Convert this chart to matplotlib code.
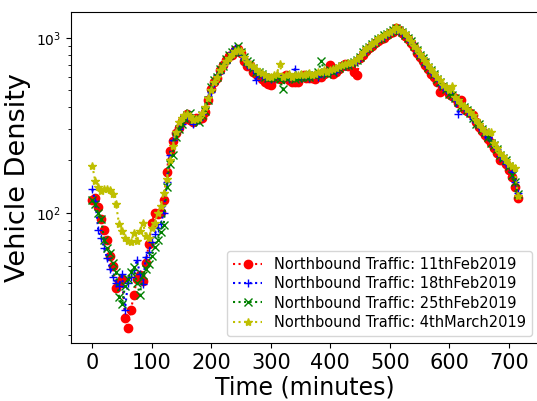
import matplotlib
matplotlib.use('Agg')
import matplotlib.pyplot as plt

# sample times, one reading every 5 minutes
minutes = list(range(0, 720, 5))

feb11 = [118, 122, 108, 92, 80, 70, 57, 50, 37, 40, 42, 25, 22, 28, 34, 42, 44, 41, 52, 66,
         88, 100, 98, 101, 118, 170, 225, 258, 285, 305, 335, 350, 365, 340, 330, 350, 345, 350, 375, 440,
         510, 555, 590, 650, 700, 750, 790, 800, 850, 860, 820, 740, 690, 700, 640, 620, 610, 580, 560, 545,
         540, 590, 600, 580, 595, 610, 570, 560, 555, 560, 600, 610, 590, 585, 590, 580, 610, 600, 620, 640,
         700, 620, 640, 660, 690, 710, 690, 700, 640, 610, 770, 800, 840, 870, 900, 930, 960, 980, 1000, 1030,
         1060, 1080, 1130, 1110, 1070, 1020, 980, 930, 880, 820, 780, 740, 700, 660, 620, 600, 560, 490, 520, 500,
         480, 465, 450, 425, 440, 390, 380, 370, 360, 330, 310, 295, 280, 265, 250, 235, 220, 200, 200, 190,
         175, 160, 140, 122]

feb18 = [136, 117, 80, 72, 63, 55, 48, 43, 40, 38, 45, 28, 40, 43, 47, 54, 45, 39, 56, 60,
         68, 76, 82, 86, 100, 150, 215, 260, 290, 300, 320, 355, 350, 360, 320, 330, 340, 365, 400, 460,
         490, 550, 610, 630, 700, 720, 770, 830, 870, 850, 800, 760, 700, 690, 660, 570, 620, 610, 590, 600,
         580, 590, 610, 600, 590, 600, 580, 600, 660, 600, 590, 600, 610, 590, 610, 620, 600, 630, 620, 640,
         630, 650, 640, 680, 700, 690, 710, 720, 730, 740, 790, 830, 850, 880, 920, 950, 980, 1000, 1010, 1050,
         1080, 1090, 1110, 1090, 1070, 1050, 990, 940, 900, 830, 790, 770, 710, 690, 640, 620, 590, 540, 520, 500,
         490, 470, 440, 366, 420, 400, 380, 360, 345, 330, 310, 300, 280, 270, 260, 240, 230, 210, 200, 190,
         185, 170, 150, 130]

feb25 = [118, 112, 100, 92, 70, 63, 59, 52, 46, 33, 30, 38, 42, 46, 49, 40, 34, 44, 48, 51,
         57, 64, 70, 78, 85, 140, 190, 215, 270, 300, 320, 350, 360, 370, 345, 350, 330, 360, 380, 440,
         520, 570, 600, 660, 690, 760, 800, 830, 860, 900, 830, 780, 740, 720, 670, 640, 640, 620, 600, 590,
         600, 590, 600, 580, 509, 590, 600, 610, 580, 590, 600, 610, 600, 600, 620, 610, 640, 740, 630, 620,
         650, 640, 660, 670, 690, 700, 700, 720, 730, 750, 780, 830, 860, 890, 920, 950, 980, 1000, 1030, 1050,
         1080, 1110, 1130, 1100, 1080, 1040, 1000, 960, 900, 850, 800, 770, 730, 680, 650, 620, 580, 560, 530, 510,
         480, 470, 450, 430, 410, 400, 385, 370, 350, 320, 320, 300, 290, 270, 250, 245, 230, 215, 205, 200,
         185, 165, 150, 128]

mar04 = [186, 152, 140, 133, 136, 137, 135, 128, 112, 86, 79, 72, 69, 68, 77, 69, 79, 88, 74, 72,
         82, 88, 100, 110, 130, 156, 200, 241, 290, 330, 350, 360, 365, 355, 340, 345, 350, 370, 400, 450,
         500, 560, 600, 650, 690, 740, 770, 810, 840, 850, 840, 780, 730, 700, 690, 660, 640, 630, 610, 600,
         600, 610, 620, 708, 600, 610, 620, 600, 610, 610, 620, 610, 620, 630, 610, 620, 640, 640, 650, 640,
         650, 660, 670, 690, 700, 710, 720, 720, 740, 760, 790, 830, 870, 890, 930, 950, 990, 1010, 1030, 1060,
         1080, 1100, 1150, 1110, 1090, 1060, 1010, 960, 900, 860, 810, 770, 740, 700, 660, 630, 600, 570, 540, 520,
         500, 532, 460, 440, 420, 405, 390, 375, 360, 340, 320, 305, 290, 288, 288, 250, 235, 220, 210, 200,
         190, 185, 181, 125]

labels = ['Northbound Traffic: 11thFeb2019', 'Northbound Traffic: 18thFeb2019',
          'Northbound Traffic: 25thFeb2019', 'Northbound Traffic: 4thMarch2019']

fig = plt.figure(figsize=(5.37, 4.01), dpi=100)
ax = fig.add_axes([0.1322, 0.1446, 0.8715, 0.8254])

ax.plot(minutes, feb11, 'r:o', label=labels[0])
ax.plot(minutes, feb18, 'b:+', label=labels[1])
ax.plot(minutes, feb25, 'g:x', label=labels[2])
ax.plot(minutes, mar04, 'y:*', label=labels[3])

ax.set_yscale('log')
ax.set_xticks([0, 100, 200, 300, 400, 500, 600, 700])
ax.tick_params(axis='x', labelsize=15)
ax.set_xlabel('Time (minutes)', fontsize=17, labelpad=2)
ax.set_ylabel('Vehicle Density', fontsize=19.5)
ax.legend(loc='lower right', fontsize=10.5, labelspacing=0.3)

fig.savefig('out.png', dpi=100)
